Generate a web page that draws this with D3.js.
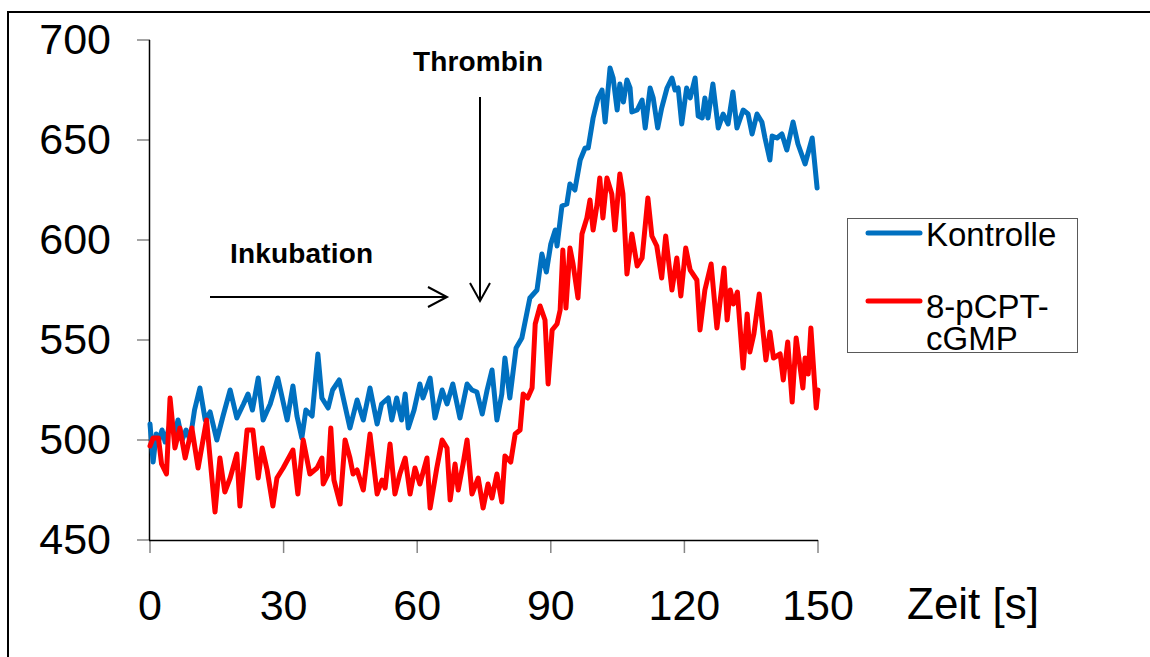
<!DOCTYPE html>
<html><head><meta charset="utf-8">
<script src="https://cdn.jsdelivr.net/npm/d3@7"></script>
<style>html,body{margin:0;padding:0;background:#fff;}</style>
</head><body>
<svg id="chart" width="1150" height="657"></svg>
<script>
const xTicks = [0, 30, 60, 90, 120, 150];
const yTicks = [450, 500, 550, 600, 650, 700];
const seriesNames = ["Kontrolle", "8-pCPT-cGMP"];
const xAxisTitle = "Zeit [s]";

const kontrolleZeit = [0,0.7,1.4,2,2.7,3.4,4.5,5.6,6.3,7.2,8.1,9,10,11.2,12.4,13.5,15,16.4,18,19.5,21,22,23,24.3,25.4,27,28.7,30.8,32.1,33,34.1,35,36.4,37.7,38.6,40,41,42.5,44.9,46.5,47.9,49.4,51,52,53.5,54.3,55.4,56.5,57.3,58,59.3,60.6,61.3,62.9,64,65.6,66.7,68,69.6,71.2,72.3,73.4,74.6,75.7,76.8,77.9,79,79.7,80.8,82.2,83.5,85.3,86.9,88,89,90,91,91.4,92.5,93.6,94.3,95.4,96.6,97.7,98.4,99.5,100.6,101.5,102.2,103.3,104,104.9,105.5,106.3,107.1,107.8,108.2,109.4,110.5,111.2,112.3,113,114,114.9,116.1,117.2,117.9,118.6,119.4,120.5,121.3,122.4,123.1,124,124.6,125.3,126.4,127.6,128.7,129.8,130.9,131.8,133.2,134.3,135.2,136.3,137.4,138.1,139.2,139.7,140.8,141.9,143,144.4,145.5,147.1,148.7,149.8];
const kontrolleWerte = [508,489,503,500,505,499,508,504,510,500,505,500,515,526,510,514,500,512,525,511,518,523,515,531,510,518,531,510,527,512,501,515,512,543,521,516,525,530,506,520,510,526,508,518,521,510,521,510,523,506,515,528,521,531,511,525,518,528,511,528,525,524,513,525,535,510,523,541,521,546,551,571,575,593,584,598,605,597,617,618,628,625,640,646,646,661,671,675,659,686,681,665,678,669,680,676,664,665,670,656,676,671,656,666,676,681,675,676,658,676,671,681,662,661,671,661,678,656,663,658,674,656,665,663,653,663,659,651,640,652,651,653,645,659,648,638,651,626];

const cgmpZeit = [0,0.7,1.9,2.6,3.7,4.5,5.6,6.7,7.9,9.4,10.8,12.7,14.6,15.7,16.8,18,19.5,20.2,21.8,23.1,24.3,25.2,26.3,27.6,28.5,29.9,32.1,33.2,34.4,35.9,37.5,38.6,38.9,40,40.6,41.3,42.7,43.8,44.9,45.6,46.5,47.9,49.4,51,52.1,52.8,53.9,55,56.1,57.3,58.4,59.5,60.6,62.2,62.9,64.4,65.6,66.7,67.4,68.5,69.2,70.3,71.2,72.3,73.7,74.8,75.9,76.8,77.9,79,79.7,81,82,83.1,83.8,84.8,85.8,86.5,87.6,88.7,89.4,90.3,91.4,92.1,92.7,93.4,94.3,95,96.1,97,98.1,98.8,99.5,100.4,101,101.7,102.6,103.7,104.4,105.5,106.2,107.1,108.2,109.4,110.5,111.8,112.7,113.8,114.9,115.8,117.2,118.3,119.2,120.3,121.3,122.8,123.5,124.6,126,127.3,128.9,129.6,130.3,131,131.9,133.2,134.1,134.7,135.6,136.8,138.3,139.2,140,141.5,142.2,143.2,144.2,145.1,146.6,147.1,147.8,148.4,149.6,150];
const cgmpWerte = [497,501,501,488,483,521,496,506,491,506,486,510,464,491,474,481,493,467,505,505,481,496,485,467,481,486,495,473,500,483,486,491,478,483,506,480,468,500,491,483,485,475,503,473,480,476,498,473,483,491,473,486,478,491,466,486,500,496,470,488,475,488,500,473,481,466,478,471,483,469,492,489,503,505,523,521,526,558,567,560,528,555,558,565,595,566,596,588,571,603,611,620,605,618,631,611,631,623,605,633,623,583,603,587,591,621,602,597,581,602,575,591,572,596,585,580,555,575,588,556,586,560,575,568,574,536,563,544,553,573,540,554,541,543,530,549,519,551,526,541,533,556,516,525];

const svg = d3.select("#chart");
const font = "'Liberation Sans', Arial, sans-serif";

// outer frame
svg.append("rect").attr("x", 8).attr("y", 12).attr("width", 1200).attr("height", 700)
  .attr("fill", "none").attr("stroke", "#000").attr("stroke-width", 2);

const x = d3.scaleLinear().domain([0, 150]).range([150, 818]);
const y = d3.scaleLinear().domain([450, 700]).range([540, 40]);

// y axis
const yAxis = svg.append("g");
yAxis.selectAll("line.tick").data(yTicks).join("line")
  .attr("x1", 137).attr("x2", 150).attr("y1", d => y(d)).attr("y2", d => y(d))
  .attr("stroke", "#868686").attr("stroke-width", 1.5);
yAxis.append("line").attr("x1", 149.5).attr("x2", 149.5).attr("y1", y(700)).attr("y2", y(450))
  .attr("stroke", "#000").attr("stroke-width", 1.5);
yAxis.selectAll("text").data(yTicks).join("text")
  .attr("x", 111).attr("y", d => y(d) + 14)
  .attr("text-anchor", "end").attr("font-family", font).attr("font-size", 43)
  .text(d => d);

// x axis
const xAxis = svg.append("g");
xAxis.selectAll("line.tick").data(xTicks).join("line")
  .attr("x1", d => x(d)).attr("x2", d => x(d)).attr("y1", 540).attr("y2", 553)
  .attr("stroke", "#868686").attr("stroke-width", 1.5);
xAxis.append("line").attr("x1", 149).attr("x2", 818).attr("y1", 540.5).attr("y2", 540.5)
  .attr("stroke", "#000").attr("stroke-width", 1.5);
xAxis.selectAll("text").data(xTicks).join("text")
  .attr("x", d => x(d)).attr("y", 620)
  .attr("text-anchor", "middle").attr("font-family", font).attr("font-size", 43)
  .text(d => d);
svg.append("text").attr("x", 907).attr("y", 619).attr("font-family", font).attr("font-size", 44)
  .text(xAxisTitle);

// lines
const line = d3.line().x(d => x(d[0])).y(d => y(d[1]));
const blue = kontrolleZeit.map((t, i) => [t, kontrolleWerte[i]]);
const red = cgmpZeit.map((t, i) => [t, cgmpWerte[i]]);
const colors = ["#0070C0", "#FF0000"];
[blue, red].forEach((s, i) => {
  svg.append("path").datum(s).attr("d", line).attr("fill", "none")
    .attr("stroke", colors[i]).attr("stroke-width", 5)
    .attr("stroke-linejoin", "round").attr("stroke-linecap", "round");
});

// annotations
const bold = "'Liberation Sans', Arial, sans-serif";
svg.append("text").attr("x", 413).attr("y", 71).attr("font-family", bold).attr("font-weight", "bold")
  .attr("font-size", 28).attr("textLength", 130).text("Thrombin");
svg.append("text").attr("x", 230).attr("y", 263).attr("font-family", bold).attr("font-weight", "bold")
  .attr("font-size", 28).attr("textLength", 143).text("Inkubation");
const arrows = svg.append("g").attr("stroke", "#000").attr("stroke-width", 2).attr("fill", "none");
arrows.append("line").attr("x1", 210).attr("y1", 297).attr("x2", 447).attr("y2", 297);
arrows.append("path").attr("d", "M428,287 L447,297 L428,307");
arrows.append("line").attr("x1", 480).attr("y1", 97).attr("x2", 480).attr("y2", 301);
arrows.append("path").attr("d", "M470,283 L480,301 L490,283");

// legend
const lg = svg.append("g");
lg.append("rect").attr("x", 847.5).attr("y", 218.5).attr("width", 230).attr("height", 134)
  .attr("fill", "#fff").attr("stroke", "#595959").attr("stroke-width", 1);
lg.append("line").attr("x1", 868).attr("x2", 920).attr("y1", 233).attr("y2", 233)
  .attr("stroke", colors[0]).attr("stroke-width", 5).attr("stroke-linecap", "round");
lg.append("line").attr("x1", 868).attr("x2", 920).attr("y1", 301).attr("y2", 301)
  .attr("stroke", colors[1]).attr("stroke-width", 5).attr("stroke-linecap", "round");
lg.append("text").attr("x", 926).attr("y", 246).attr("font-family", font).attr("font-size", 33).text(seriesNames[0]);
const t2 = lg.append("text").attr("font-family", font).attr("font-size", 33);
t2.append("tspan").attr("x", 926).attr("y", 318).text("8-pCPT-");
t2.append("tspan").attr("x", 926).attr("y", 350).text("cGMP");
</script>
</body></html>
